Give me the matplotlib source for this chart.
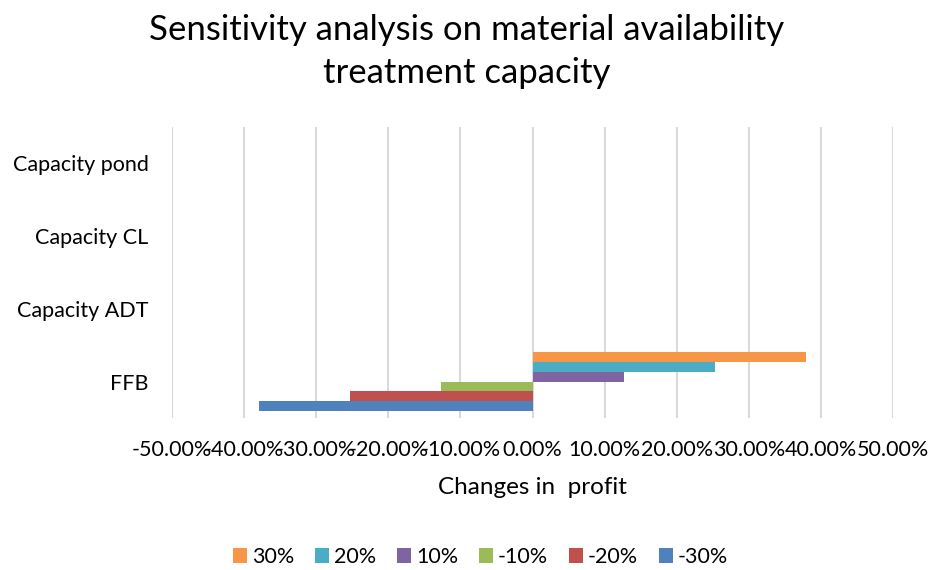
import matplotlib
matplotlib.use("Agg")
import matplotlib.pyplot as plt
import numpy as np
from matplotlib.ticker import FuncFormatter, MultipleLocator

plt.rcParams['font.family'] = ['Lato', 'DejaVu Sans']
plt.rcParams['axes.unicode_minus'] = False

categories = ["FFB", "Capacity ADT", "Capacity CL", "Capacity pond"]
series_names = ["-30%", "-20%", "-10%", "10%", "20%", "30%"]
values = {
    "-30%": [-0.3796, 0.0, 0.0, 0.0],
    "-20%": [-0.2525, 0.0, 0.0, 0.0],
    "-10%": [-0.1265, 0.0, 0.0, 0.0],
    "10%":  [0.1265, 0.0, 0.0, 0.0],
    "20%":  [0.2537, 0.0, 0.0, 0.0],
    "30%":  [0.3796, 0.0, 0.0, 0.0],
}
colors = {
    "30%": "#F79646", "20%": "#4BACC6", "10%": "#8064A2",
    "-10%": "#9BBB59", "-20%": "#C0504D", "-30%": "#4F81BD",
}

fig = plt.figure(figsize=(9.33, 5.70), dpi=100)
ax = fig.add_axes([172/933, 1-418/570, (893-172)/933, (418-127)/570])

y = np.arange(len(categories))
n = len(series_names)
h = 0.135
handles = {}
for i, s in enumerate(series_names):
    off = (i - (n-1)/2) * h
    b = ax.barh(y + off, values[s], height=h, color=colors[s], label=s, zorder=3)
    handles[s] = b

ax.set_xlim(-0.5, 0.5)
ax.set_ylim(-0.5, 3.5)
ax.xaxis.set_major_locator(MultipleLocator(0.1))
ax.xaxis.set_major_formatter(FuncFormatter(lambda v, p: f"{v*100:.2f}%"))
ax.set_yticks(y)
ax.set_yticklabels(categories)
ax.grid(axis='x', color='#D9D9D9', linewidth=1.5, zorder=0)
for sp in ax.spines.values():
    sp.set_visible(False)
ax.tick_params(axis='both', length=0, labelsize=15.5, colors='#000000')
ax.tick_params(axis='x', pad=16)
ax.tick_params(axis='y', pad=17)
ax.set_xlabel("Changes in  profit", fontsize=17.5, labelpad=12)

fig.suptitle("Sensitivity analysis on material availability\ntreatment capacity",
             fontsize=25, y=0.975, linespacing=1.4)

order = ["30%", "20%", "10%", "-10%", "-20%", "-30%"]
leg = fig.legend([handles[s] for s in order], order, loc='center',
                 bbox_to_anchor=(0.515, 1-557/570), ncol=6, frameon=False, fontsize=15.5,
                 handlelength=0.65, handleheight=0.65, handletextpad=0.25, columnspacing=0.95)

fig.savefig("out.png", dpi=100)
